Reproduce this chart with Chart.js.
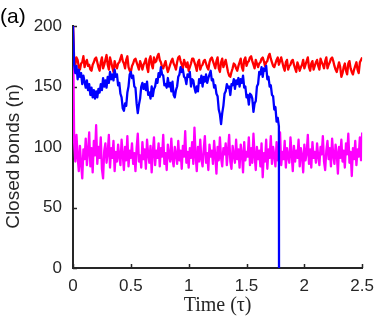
<!DOCTYPE html>
<html>
<head>
<meta charset="utf-8">
<title>Closed bonds</title>
<script src="https://cdn.jsdelivr.net/npm/chart.js@4.4.0/dist/chart.umd.min.js"></script>
<style>
  body { margin: 0; background: #fff; }
</style>
</head>
<body>
<canvas id="bonds" width="382" height="325"></canvas>
<script>
// time step of every series (tau)
const STEP = 0.01;
const BLUE_BREAK = 1.78;

const xTicks = [0, 0.5, 1, 1.5, 2, 2.5];
const yTicks = [0, 50, 100, 150, 200];

// blue: t = 0 .. 1.78, then all bonds break
const blueVals = [
  200, 168, 161, 167, 156, 164, 158, 161, 152, 159,
  154, 149, 155, 147, 152, 143, 149, 141, 147, 140,
  146, 141, 148, 145, 152, 147, 157, 150, 155, 149,
  158, 153, 162, 156, 160, 155, 164, 158, 160, 151,
  153, 144, 141, 132, 130, 136, 134, 145, 150, 160,
  162, 157, 159, 150, 149, 136, 128, 135, 140, 150,
  153, 148, 152, 147, 154, 143, 145, 140, 150, 142,
  148, 150, 156, 153, 161, 158, 166, 160, 159, 151,
  152, 149, 157, 150, 153, 146, 154, 143, 141, 147,
  150, 158, 160, 166, 162, 164, 158, 157, 152, 160,
  158, 162, 150, 156, 155, 149, 145, 150, 146, 156,
  153, 159, 150, 158, 154, 160, 153, 157, 160, 163,
  155, 156, 149, 151, 144, 142, 131, 127, 119, 128,
  134, 144, 146, 152, 149, 150, 143, 152, 151, 156,
  148, 155, 152, 157, 150, 156, 153, 159, 149, 150,
  141, 143, 135, 144, 143, 140, 129, 136, 138, 150,
  152, 162, 160, 166, 158, 165, 163, 167, 156, 158,
  150, 151, 143, 142, 131, 133, 121, 124, 117
];

// red: t = 0 .. 2.5
const redVals = [
  200, 172, 168, 174, 172, 166, 164, 169, 170, 175,
  166, 170, 172, 167, 168, 164, 163, 168, 170, 173,
  174, 170, 166, 163, 170, 174, 165, 168, 172, 176,
  168, 164, 174, 170, 166, 162, 171, 167, 165, 169,
  170, 173, 176, 171, 169, 165, 172, 175, 166, 163,
  162, 167, 169, 172, 173, 170, 167, 164, 171, 168,
  164, 168, 170, 173, 166, 162, 172, 175, 168, 165,
  174, 170, 171, 175, 177, 172, 170, 166, 165, 168,
  171, 166, 162, 165, 168, 171, 173, 169, 167, 164,
  170, 174, 175, 171, 168, 165, 172, 169, 166, 170,
  163, 166, 169, 173, 173, 170, 167, 163, 170, 172,
  164, 167, 168, 171, 172, 169, 166, 164, 170, 173,
  174, 171, 168, 165, 171, 174, 165, 162, 170, 173,
  166, 169, 172, 167, 162, 159, 158, 162, 165, 169,
  168, 165, 163, 167, 170, 173, 166, 163, 172, 174,
  167, 170, 171, 174, 175, 171, 168, 165, 172, 169,
  166, 169, 170, 173, 174, 171, 167, 170, 171, 175,
  177, 173, 170, 167, 166, 169, 172, 174, 168, 171,
  174, 170, 166, 163, 170, 172, 164, 167, 168, 171,
  172, 168, 165, 162, 170, 167, 163, 166, 168, 172,
  165, 168, 171, 174, 166, 163, 169, 171, 164, 167,
  170, 172, 167, 164, 173, 170, 168, 165, 171, 174,
  165, 168, 170, 173, 174, 171, 167, 164, 162, 166,
  170, 166, 158, 161, 166, 169, 163, 160, 169, 171,
  165, 162, 160, 164, 167, 170, 164, 161, 170, 172,
  174
];

// magenta: t = 0 .. 2.5
const magentaVals = [
  200,
  104, 88, 110, 92, 80, 101, 86, 74, 98, 90,
  107, 85, 96, 112, 84, 99, 79, 105, 93, 118,
  86, 100, 91, 108, 82, 74, 97, 103, 87, 95,
  110, 83, 99, 91, 105, 80, 96, 88, 102, 92,
  85, 106, 94, 81, 100, 89, 109, 84, 97, 91,
  103, 86, 95, 80, 99, 111, 88, 93, 83, 104,
  90, 98, 82, 106, 94, 87, 101, 79, 96, 108,
  85, 97, 91, 103, 84, 99, 92, 110, 86, 95,
  81, 102, 93, 88, 107, 90, 84, 100, 94, 86,
  105, 89, 97, 82, 101, 92, 113, 87, 96, 83,
  99, 91, 104, 86, 116, 93, 80, 100, 88, 106,
  90, 84, 98, 109, 87, 95, 81, 102, 92, 97,
  86, 105, 93, 78, 100, 89, 108, 91, 84, 99,
  94, 103, 85, 97, 110, 88, 82, 101, 93, 87,
  106, 90, 98, 83, 102, 95, 79, 104, 89, 96,
  92, 108, 85, 99, 87, 111, 93, 81, 100, 90,
  97, 84, 103, 75, 95, 88, 106, 82, 98, 91,
  109, 86, 100, 93, 84, 104, 89, 97, 112, 85,
  96, 90, 105, 83, 99, 92, 87, 108, 94, 80,
  101, 88, 97, 91, 106, 84, 99, 93, 79, 102,
  89, 95, 110, 86, 98, 83, 104, 91, 96, 87,
  103, 92, 85, 100, 94, 109, 88, 81, 97, 105,
  90, 99, 84, 107, 93, 86, 102, 95, 78, 100,
  91, 106, 88, 97, 83, 103, 94, 111, 87, 96,
  76, 99, 90, 105, 85, 98, 92, 108, 89, 112
];

function toPoints(vals) {
  return vals.map((v, i) => ({ x: +(i * STEP).toFixed(3), y: v }));
}

const bluePts = toPoints(blueVals);
bluePts.push({ x: BLUE_BREAK + 0.001, y: 0 });

const AXIS = '#262626';
const SANS = "'Liberation Sans', Arial, sans-serif";

// MATLAB style inward ticks, panel letter and y label
const decor = {
  id: 'decor',
  beforeDatasetsDraw(chart) {
    const ctx = chart.ctx;
    const xs = chart.scales.x, ys = chart.scales.y;
    const a = chart.chartArea;
    ctx.save();
    ctx.strokeStyle = AXIS;
    ctx.lineWidth = 1.5;
    ctx.beginPath();
    xTicks.forEach(t => {
      const px = Math.round(xs.getPixelForValue(t)) + 0.5;
      ctx.moveTo(px, a.bottom);
      ctx.lineTo(px, a.bottom - 4);
    });
    yTicks.forEach(t => {
      const py = Math.round(ys.getPixelForValue(t)) + 0.5;
      ctx.moveTo(a.left, py);
      ctx.lineTo(a.left + 4, py);
    });
    ctx.stroke();
    ctx.restore();
  },
  afterDraw(chart) {
    const ctx = chart.ctx;
    ctx.save();
    ctx.fillStyle = '#000';
    ctx.font = '21px ' + SANS;
    ctx.textAlign = 'left';
    ctx.textBaseline = 'middle';
    ctx.fillText('(a)', 0, 17);
    ctx.fillStyle = AXIS;
    ctx.font = '19px ' + SANS;
    ctx.translate(13.5, 156.5);
    ctx.rotate(-Math.PI / 2);
    ctx.textAlign = 'center';
    ctx.fillText('Closed bonds (n)', 0, 0);
    ctx.restore();
  }
};

new Chart(document.getElementById('bonds'), {
  type: 'line',
  data: {
    datasets: [
      {
        label: 'blue',
        data: bluePts,
        borderColor: '#0000ff',
        borderWidth: 2.3
      },
      {
        label: 'red',
        data: toPoints(redVals),
        borderColor: '#ff0000',
        borderWidth: 2.3
      },
      {
        label: 'magenta',
        data: toPoints(magentaVals),
        borderColor: '#ff00ff',
        borderWidth: 2.3
      }
    ]
  },
  options: {
    responsive: false,
    animation: false,
    layout: { padding: { left: 0, top: 26, right: 14, bottom: 0 } },
    elements: {
      point: { radius: 0 },
      line: { tension: 0, borderJoinStyle: 'round', fill: false }
    },
    plugins: { legend: { display: false }, tooltip: { enabled: false } },
    scales: {
      x: {
        type: 'linear',
        min: 0, max: 2.5,
        afterFit(s) { s.height = 57; },
        afterBuildTicks(s) { s.ticks = xTicks.map(v => ({ value: v })); },
        grid: { display: false, drawTicks: false },
        border: { display: true, color: AXIS, width: 2 },
        ticks: {
          padding: 8, color: AXIS, font: { family: SANS, size: 17 },
          callback: v => String(v)
        },
        title: {
          display: true,
          text: 'Time (τ)',
          color: AXIS,
          font: { family: "'Liberation Serif', 'Times New Roman', serif", size: 20 },
          padding: { top: 0, bottom: 7 }
        }
      },
      y: {
        min: 0, max: 200,
        afterFit(s) { s.width = 73; },
        afterBuildTicks(s) { s.ticks = yTicks.map(v => ({ value: v })); },
        grid: { display: false, drawTicks: false },
        border: { display: true, color: AXIS, width: 2 },
        ticks: { padding: 11, color: AXIS, font: { family: SANS, size: 17 } }
      }
    }
  },
  plugins: [decor]
});
</script>
</body>
</html>
